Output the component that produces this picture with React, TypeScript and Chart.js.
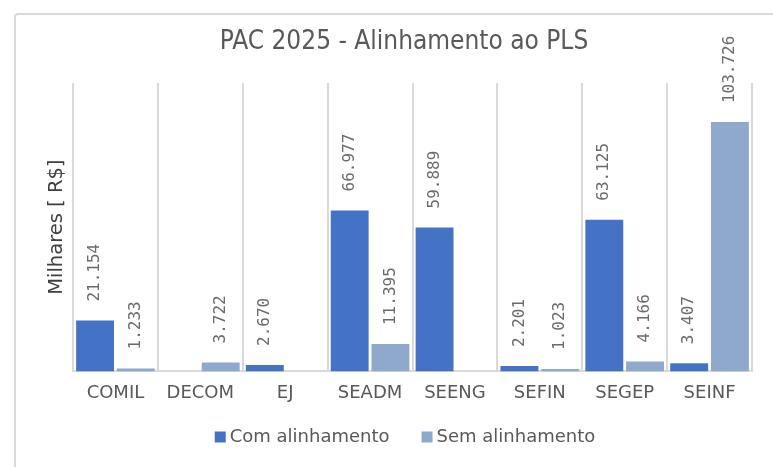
import React, { useEffect, useRef } from "react";
import { Chart, registerables } from "chart.js";

Chart.register(...registerables);

const categories = ["COMIL", "DECOM", "EJ", "SEADM", "SEENG", "SEFIN", "SEGEP", "SEINF"];
const comAlinhamento = [21.154, 0, 2.67, 66.977, 59.889, 2.201, 63.125, 3.407];
const semAlinhamento = [1.233, 3.722, 0, 11.395, 0, 1.023, 4.166, 103.726];
const seriesNames = ["Com alinhamento", "Sem alinhamento"];
const seriesColors = ["#4472C4", "#8EA9CB"];
const titleText = "PAC 2025 - Alinhamento ao PLS";
const yTitle = "Milhares [ R$]";

const fmt = (v: number) => v.toFixed(3);

const extrasPlugin = {
  id: "extras",
  afterDatasetsDraw(chart: any) {
    const ctx = chart.ctx;
    const area = chart.chartArea;
    ctx.save();
    // data labels
    ctx.font = "16px 'DejaVu Sans Mono'";
    ctx.fillStyle = "#6b6b6b";
    ctx.textAlign = "left";
    ctx.textBaseline = "middle";
    chart.data.datasets.forEach((ds: any, di: number) => {
      const meta = chart.getDatasetMeta(di);
      meta.data.forEach((bar: any, i: number) => {
        const v = ds.data[i];
        if (!v) return;
        ctx.save();
        ctx.translate(bar.x, bar.y - 19);
        ctx.rotate(-Math.PI / 2);
        ctx.fillText(fmt(v), 0, 0);
        ctx.restore();
      });
    });
    // title
    ctx.font = "26px 'DejaVu Sans Condensed'";
    ctx.fillStyle = "#595959";
    ctx.textAlign = "center";
    ctx.textBaseline = "middle";
    ctx.fillText(titleText, 404, 42);
    // y title
    ctx.save();
    ctx.translate(57, (area.top + area.bottom) / 2);
    ctx.rotate(-Math.PI / 2);
    ctx.font = "19.5px 'DejaVu Sans'";
    ctx.fillStyle = "#404040";
    ctx.fillText(yTitle, 0, 0);
    ctx.restore();
    // legend
    ctx.font = "18px 'DejaVu Sans'";
    ctx.textAlign = "left";
    ctx.textBaseline = "middle";
    const box = 11;
    const gap = 4;
    const itemGap = 32;
    const widths = chart.data.datasets.map((ds: any) => box + gap + ctx.measureText(ds.label).width);
    const total = widths.reduce((a: number, b: number) => a + b, 0) + itemGap * (widths.length - 1);
    let x = 405 - total / 2;
    const y = 437;
    chart.data.datasets.forEach((ds: any, i: number) => {
      ctx.fillStyle = ds.backgroundColor;
      ctx.fillRect(x, y - box / 2, box, box);
      ctx.fillStyle = "#595959";
      ctx.fillText(ds.label, x + box + gap, y);
      x += widths[i] + itemGap;
    });
    ctx.restore();
  },
};

export default function App() {
  const ref = useRef<HTMLCanvasElement>(null);
  useEffect(() => {
    if (!ref.current) return;
    const chart = new Chart(ref.current, {
      type: "bar",
      data: {
        labels: categories,
        datasets: [
          {
            label: seriesNames[0],
            data: comAlinhamento,
            backgroundColor: seriesColors[0],
            barPercentage: 0.93,
            categoryPercentage: 0.96,
          },
          {
            label: seriesNames[1],
            data: semAlinhamento,
            backgroundColor: seriesColors[1],
            barPercentage: 0.93,
            categoryPercentage: 0.96,
          },
        ],
      },
      options: {
        animation: false,
        responsive: false,
        layout: { padding: { left: 73, right: 21, top: 83, bottom: 52 } },
        scales: {
          x: {
            grid: { color: "#d9d9d9", lineWidth: 2, drawTicks: false, offset: true },
            border: { color: "#d9d9d9", width: 2 },
            ticks: {
              font: { family: "DejaVu Sans", size: 18 },
              color: "#595959",
              padding: 11,
            },
          },
          y: {
            display: false,
            min: 0,
            max: 120,
          },
        },
        plugins: {
          legend: { display: false },
          tooltip: { enabled: false },
        },
      },
      plugins: [extrasPlugin],
    });
    return () => chart.destroy();
  }, []);
  return (
    <div style={{ position: "fixed", left: 0, top: 0, width: 773, height: 467, background: "#fff", overflow: "hidden" }}>
      <div
        style={{
          position: "absolute",
          left: 14,
          top: 13,
          width: 800,
          height: 500,
          border: "2px solid #d9d9d9",
          borderRadius: 4,
          boxSizing: "border-box",
        }}
      />
      <canvas ref={ref} width={773} height={467} style={{ position: "absolute", left: 0, top: 0 }} />
    </div>
  );
}
